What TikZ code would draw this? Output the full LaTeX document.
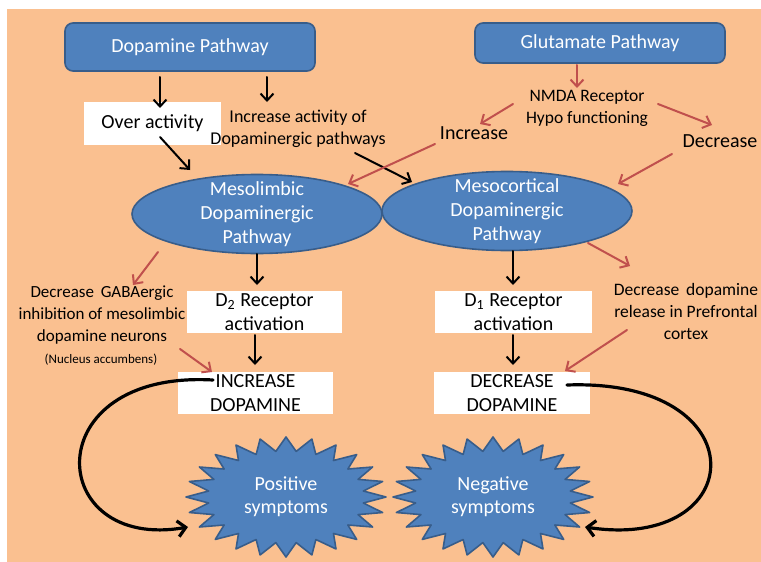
\documentclass[tikz,border=0pt]{standalone}
\usepackage{fontspec}
\setmainfont{Carlito}
\usetikzlibrary{arrows.meta,shapes.geometric}
\definecolor{bgorange}{HTML}{FAC090}
\definecolor{boxblue}{HTML}{4F81BD}
\definecolor{edgeblue}{HTML}{385D8A}
\definecolor{arrred}{HTML}{C0504D}
\tikzset{
  pathbox/.style={rounded corners=4pt, fill=boxblue, draw=edgeblue, line width=0.8pt, text=white, minimum width=125pt, inner sep=0pt},
  whitebox/.style={fill=white, inner sep=0pt, align=center, minimum height=21pt},
  lobe/.style={ellipse, fill=boxblue, draw=edgeblue, line width=0.8pt, minimum width=125pt, minimum height=39.5pt, inner sep=0pt},
  lobetext/.style={text=white, align=center, inner sep=0pt},
  note/.style={align=center, inner sep=0pt, font=\fontsize{8.75}{11}\selectfont},
  burst/.style={fill=boxblue, draw=edgeblue, line width=0.8pt},
  blk/.style={-{Straight Barb[length=3.5pt,width=6.5pt]}, line width=1pt},
  redarr/.style={-{Straight Barb[length=3.5pt,width=6.5pt]}, arrred, line width=1pt},
  bigcurve/.style={-{Straight Barb[length=4pt,width=8pt]}, line width=1.6pt}
}
\begin{document}
\begin{tikzpicture}[x=0.5pt, y=-0.5pt, font=\fontsize{10}{12}\selectfont, line join=round, line cap=round]
\useasboundingbox (0,0) rectangle (761,562);
\fill[white] (0,0) rectangle (761,562);
\fill[bgorange] (7,9) rectangle (761,562);
% pathways and first steps
\node[pathbox, minimum height=24pt] (dopa) at (190,47) {Dopamine Pathway};
\node[pathbox, minimum height=20pt] (glut) at (600,43) {Glutamate Pathway};
\node[whitebox, minimum width=68.5pt, minimum height=21.5pt] (over) at (152.5,123.5) {Over activity};
\node[note, font=\fontsize{9}{11}\selectfont] (incact) at (298,129) {Increase activity of\\Dopaminergic pathways};
\node[note] (nmda) at (587,108) {NMDA Receptor\\Hypo functioning};
\node[inner sep=0pt] (incr) at (474,133) {Increase};
\node[inner sep=0pt] (decr) at (720,141) {Decrease};
% the two dopaminergic pathways
\node[lobe] (limbic) at (257,214) {};
\node[lobe] (cortic) at (507,211) {};
\node[lobetext] (limbictxt) at (limbic) {Mesolimbic\\Dopaminergic\\Pathway};
\node[lobetext] (cortictxt) at (cortic) {Mesocortical\\Dopaminergic\\Pathway};
% receptors and dopamine
\node[whitebox, minimum width=77.5pt] (dtwo) at (264.5,312) {D\textsubscript{2} Receptor\\activation};
\node[whitebox, minimum width=78.5pt] (done) at (513.5,312) {D\textsubscript{1} Receptor\\activation};
\node[whitebox, minimum width=77.5pt] (incdopa) at (255.5,393) {INCREASE\\DOPAMINE};
\node[whitebox, minimum width=78pt] (decdopa) at (512,393) {DECREASE\\DOPAMINE};
\node[note, font=\fontsize{8.5}{11}\selectfont] (gaba) at (102,315) {Decrease\ \,GABAergic\\inhibition of mesolimbic\\dopamine neurons};
\node[note, font=\fontsize{6.5}{8}\selectfont] (nucleus) at (101,360) {(Nucleus accumbens)};
\node[note] (prefront) at (686,311) {Decrease\ \,dopamine\\release in Prefrontal\\cortex};
% symptoms
\foreach \cx in {286,493}
  \draw[burst] plot[variable=\k, samples at={0,...,47}]
    ({\cx+(89+11*cos(180*\k))*cos(90+7.5*\k)}, {497+(53+7*cos(180*\k))*sin(90+7.5*\k)}) -- cycle;
\node[lobetext, font=\fontsize{10}{11.5}\selectfont] (pos) at (286,497) {Positive\\symptoms};
\node[lobetext, font=\fontsize{10}{11.5}\selectfont] (neg) at (493,497) {Negative\\symptoms};
% black connectors
\draw[blk] ([shift={(-30,30)}]dopa.center) -- ([shift={(7.5,-15.5)}]over.center);
\draw[blk] ([shift={(77,30)}]dopa.center) -- ([shift={(-31,-27)}]incact.center);
\draw[blk] ([shift={(7.5,13.5)}]over.center) -- ([shift={(-67,-44)}]limbic.center);
\draw[blk] ([shift={(57,24)}]incact.center) -- ([shift={(-95,-29)}]cortic.center);
\draw[blk] ([shift={(0,40)}]limbic.center) -- ([shift={(-7.5,-27)}]dtwo.center);
\draw[blk] ([shift={(6,40)}]cortic.center) -- ([shift={(-0.5,-27)}]done.center);
\draw[blk] ([shift={(-9.5,23)}]dtwo.center) -- ([shift={(-0.5,-28)}]incdopa.center);
\draw[blk] ([shift={(-0.5,23)}]done.center) -- ([shift={(1,-28)}]decdopa.center);
% red connectors
\draw[redarr] ([shift={(-23,22)}]glut.center) -- ([shift={(-10,-20)}]nmda.center);
\draw[redarr] ([shift={(-74,-4)}]nmda.center) -- ([shift={(6,-9)}]incr.center);
\draw[redarr] ([shift={(71,-4)}]nmda.center) -- ([shift={(-8,-16)}]decr.center);
\draw[redarr] ([shift={(-39,11)}]incr.center) -- ([shift={(91,-30)}]limbic.center);
\draw[redarr] ([shift={(-48,13)}]decr.center) -- ([shift={(111,-27)}]cortic.center);
\draw[redarr] ([shift={(-99,38)}]limbic.center) -- ([shift={(31,-30)}]gaba.center);
\draw[redarr] ([shift={(79,-11)}]nucleus.center) -- ([shift={(-43.5,-21)}]incdopa.center);
\draw[redarr] ([shift={(81,32)}]cortic.center) -- ([shift={(-56,-45)}]prefront.center);
\draw[redarr] ([shift={(-59,19)}]prefront.center) -- ([shift={(53,-22)}]decdopa.center);
% dopamine to symptoms
\draw[bigcurve] ([shift={(-42.5,-13)}]incdopa.center) .. controls (35,370) and (45,552) .. ([shift={(-98,30)}]pos.center);
\draw[bigcurve] ([shift={(55,-8)}]decdopa.center) .. controls (760,378) and (750,552) .. ([shift={(92,30)}]neg.center);
\end{tikzpicture}
\end{document}
